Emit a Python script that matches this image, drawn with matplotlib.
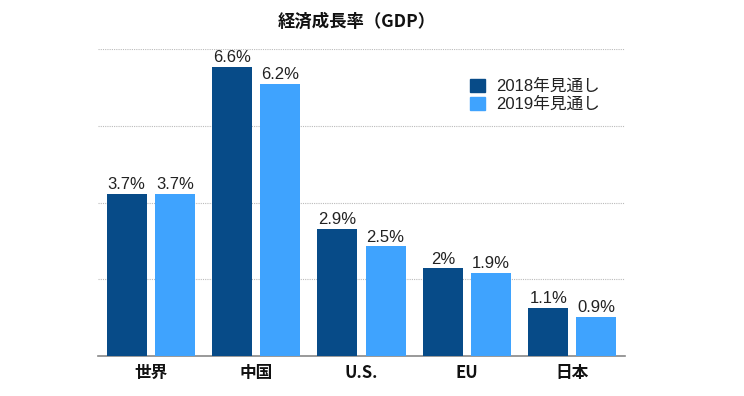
import matplotlib
matplotlib.use("Agg")
import matplotlib.pyplot as plt
from matplotlib.patches import Patch
import numpy as np

plt.rcParams['font.family'] = ['Noto Sans CJK JP', 'DejaVu Sans']
latin_cjk = ['Liberation Sans', 'Noto Sans CJK JP']

categories = ["世界", "中国", "U.S.", "EU", "日本"]
series_names = ["2018年見通し", "2019年見通し"]
values_2018 = [3.7, 6.6, 2.9, 2.0, 1.1]
values_2019 = [3.7, 6.2, 2.5, 1.9, 0.9]
labels_2018 = ["3.7%", "6.6%", "2.9%", "2%", "1.1%"]
labels_2019 = ["3.7%", "6.2%", "2.5%", "1.9%", "0.9%"]
title = "経済成長率（GDP）"

dark = "#074b88"
light = "#3fa3fe"

fig = plt.figure(figsize=(7.44, 3.96), dpi=100)
ax = fig.add_axes([98/744, 1-356/396, 527/744, 307/396])

x = np.arange(len(categories))
w = 40/105
off = 24/105
b1 = ax.bar(x - off, values_2018, width=w, color=dark, zorder=3)
b2 = ax.bar(x + off, values_2019, width=w, color=light, zorder=3)

for rect, lab in zip(b1, labels_2018):
    ax.text(rect.get_x() + rect.get_width()/2, rect.get_height() + 0.04, lab,
            ha='center', va='bottom', fontsize=12, color='#222222', family=latin_cjk)
for rect, lab in zip(b2, labels_2019):
    ax.text(rect.get_x() + rect.get_width()/2, rect.get_height() + 0.04, lab,
            ha='center', va='bottom', fontsize=12, color='#222222', family=latin_cjk)

ax.set_xlim(-0.5, len(categories) - 0.5)
ax.set_ylim(0, 7)
ax.set_yticks([1.75, 3.5, 5.25, 7])
ax.yaxis.grid(True, linestyle=(0, (1, 1)), color='#bbbbbb', linewidth=0.8, zorder=0)
ax.tick_params(axis='y', left=False, labelleft=False)
ax.set_xticks(x)
ax.set_xticklabels(categories, fontsize=12, fontweight='bold', color='#111111')
ax.tick_params(axis='x', length=0, pad=6)
for s in ['top', 'right', 'left']:
    ax.spines[s].set_visible(False)
ax.spines['bottom'].set_color('#888888')
ax.spines['bottom'].set_linewidth(1.2)

fig.text(357/744, 1-22/396, title, ha='center', va='center', fontsize=12.5,
         fontweight='bold', color='#111111')

handles = [Patch(color=dark), Patch(color=light)]
leg = fig.legend(handles, series_names, loc='upper left',
                 bbox_to_anchor=(458/744, 1-67/396), frameon=False,
                 prop={'family': latin_cjk, 'size': 12},
                 handlelength=0.95, handleheight=0.8,
                 handletextpad=0.65, labelspacing=0.18, borderpad=0.2)
for t in leg.get_texts():
    t.set_color('#222222')

fig.savefig("out.png", dpi=100)
